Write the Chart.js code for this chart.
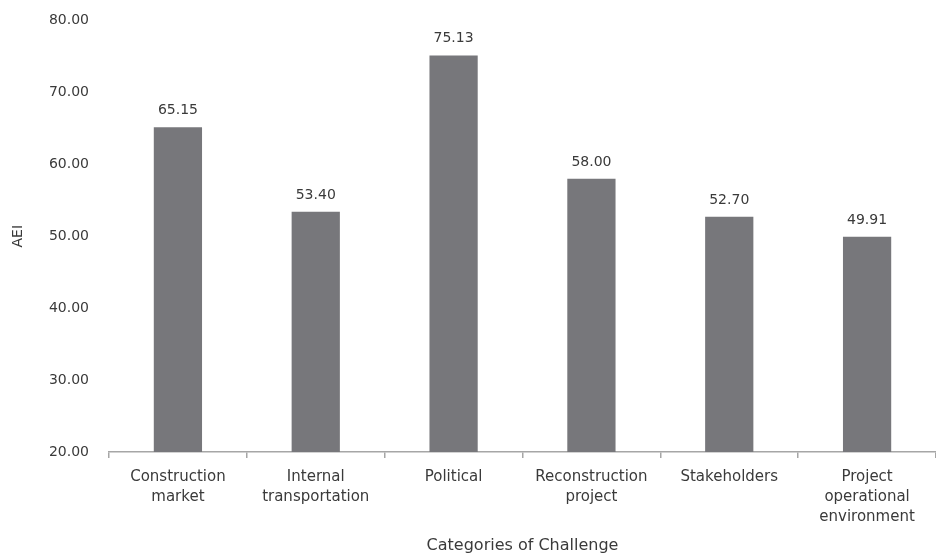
<!DOCTYPE html>
<html>
<head>
<meta charset="utf-8">
<script src="https://cdn.jsdelivr.net/npm/chart.js@4.4.1/dist/chart.umd.min.js"></script>
<style>
  html, body { margin: 0; padding: 0; background: #fff; }
  #wrap { width: 936px; height: 557px; }
</style>
</head>
<body>
<div id="wrap"><canvas id="barChart"></canvas></div>
<script>
// categories and values
const categories = [
    ['Construction', 'market'],
    ['Internal', 'transportation'],
    'Political',
    ['Reconstruction', 'project'],
    'Stakeholders',
    ['Project', 'operational', 'environment']
];
const aeiValues = [65.15, 53.40, 75.13, 58.00, 52.70, 49.91];
const yTicks = [20, 30, 40, 50, 60, 70, 80];

const textColor = '#3a3a3a';
const axisColor = '#a6a6a6';
Chart.defaults.font.family = '"DejaVu Sans", sans-serif';
Chart.defaults.font.size = 14;
Chart.defaults.color = textColor;

// draws the value above every bar
const valueLabels = {
    id: 'valueLabels',
    afterDatasetsDraw(chart) {
        const ctx = chart.ctx;
        const meta = chart.getDatasetMeta(0);
        ctx.save();
        ctx.font = '14px "DejaVu Sans", sans-serif';
        ctx.fillStyle = textColor;
        ctx.textAlign = 'center';
        ctx.textBaseline = 'alphabetic';
        meta.data.forEach((bar, i) => {
            ctx.fillText(aeiValues[i].toFixed(2), bar.x, bar.y - 13);
        });
        ctx.restore();
    }
};

const ctx = document.getElementById('barChart').getContext('2d');
const barChart = new Chart(ctx, {
    type: 'bar',
    data: {
        labels: categories,
        datasets: [{
            label: 'AEI',
            data: aeiValues,
            backgroundColor: '#77777b',
            categoryPercentage: 1,
            barPercentage: 0.35,
        }]
    },
    options: {
        responsive: true,
        maintainAspectRatio: false,
        animation: false,
        layout: { padding: { top: 15, right: 0, left: 0, bottom: 0 } },
        plugins: {
            legend: { display: false },
            tooltip: { enabled: false }
        },
        scales: {
            x: {
                grid: {
                    offset: true,
                    drawOnChartArea: false,
                    tickLength: 6,
                    color: axisColor,
                    lineWidth: 1.5
                },
                border: { color: axisColor, width: 1.5 },
                ticks: { padding: 9, maxRotation: 0, autoSkip: false, font: { size: 15, lineHeight: 1.33 } },
                title: {
                    display: true,
                    text: 'Categories of Challenge',
                    font: { size: 16 },
                    padding: { top: 4, bottom: 2 }
                },
                afterFit(scale) { scale.height = 105; }
            },
            y: {
                min: 20,
                max: 80,
                grid: { display: false },
                border: { display: false },
                afterBuildTicks(scale) {
                    scale.ticks = yTicks.map(v => ({ value: v }));
                },
                ticks: {
                    padding: 12,
                    callback: v => v.toFixed(2)
                },
                title: {
                    display: true,
                    text: 'AEI',
                    padding: { top: 10, bottom: 0 }
                },
                afterFit(scale) { scale.width = 109; }
            }
        }
    },
    plugins: [valueLabels]
});
</script>
</body>
</html>
